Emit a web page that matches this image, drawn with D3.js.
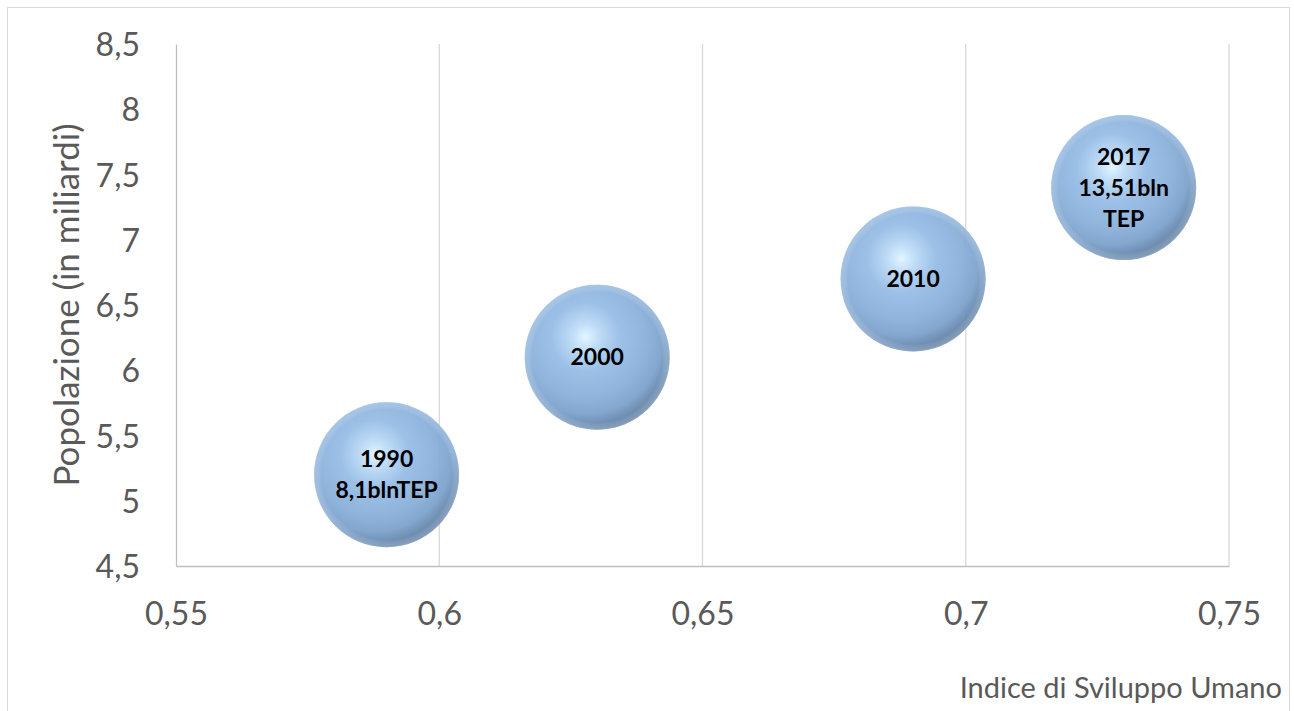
<!DOCTYPE html>
<html><head><meta charset="utf-8">
<script src="https://cdn.jsdelivr.net/npm/d3@7"></script>
<style>body{margin:0;background:#fff}svg{display:block}</style>
</head><body>
<script>
const years = ["1990","2000","2010","2017"];
const hdi = [0.59, 0.63, 0.69, 0.73];
const population = [5.2, 6.1, 6.7, 7.4];
const bubbleSize = [1, 1, 1, 1];
const bubbleLabels = [["1990","8,1blnTEP"],["2000"],["2010"],["2017","13,51bln","TEP"]];
const xTicks = [0.55, 0.6, 0.65, 0.7, 0.75];
const yTicks = [4.5, 5, 5.5, 6, 6.5, 7, 7.5, 8, 8.5];

const W = 1294, H = 711;
const svg = d3.select("body").append("svg").attr("width", W).attr("height", H);
const font = "Lato, 'Open Sans', sans-serif";

svg.append("rect").attr("x",7.5).attr("y",7.5).attr("width",1282).attr("height",720)
  .attr("fill","#fff").attr("stroke","#d9d9d9").attr("stroke-width",1);

const x = d3.scaleLinear().domain([0.55, 0.75]).range([176, 1229]);
const y = d3.scaleLinear().domain([4.5, 8.5]).range([566, 44]);
const r = d3.scaleSqrt().domain([0, 1]).range([0, 72.5]);

const defs = svg.append("defs");
const g1 = defs.append("radialGradient").attr("id","sphere")
  .attr("cx","0.42").attr("cy","0.36").attr("r","0.72");
[[0,"#e2f5ff"],[0.12,"#bedcf8"],[0.33,"#96bce5"],[0.58,"#8aafd9"],[0.74,"#7ca1cb"],[0.84,"#6788ae"],[0.93,"#546f8f"],[1,"#4c6585"]]
  .forEach(([o,c])=>g1.append("stop").attr("offset",o).attr("stop-color",c));
const g2 = defs.append("radialGradient").attr("id","rim")
  .attr("cx","0.5").attr("cy","0.5").attr("r","0.5");
[[0,"#ffffff",0],[0.9,"#ffffff",0],[0.98,"#c6dcf2",0.3],[1,"#c6dcf2",0.45]]
  .forEach(([o,c,a])=>g2.append("stop").attr("offset",o).attr("stop-color",c).attr("stop-opacity",a));

// gridlines
svg.append("g").selectAll("line").data(xTicks.slice(1)).join("line")
  .attr("x1",d=>x(d)).attr("x2",d=>x(d)).attr("y1",y(8.5)).attr("y2",y(4.5))
  .attr("stroke","#d9d9d9").attr("stroke-width",1.3);

const fmt = d=>d3.format("")(d).replace(".",",");
// axes
const gx = svg.append("g").attr("transform",`translate(0,${y(4.5)})`)
  .call(d3.axisBottom(x).tickValues(xTicks).tickSize(0).tickFormat(fmt));
gx.select(".domain").attr("stroke","#bfbfbf").attr("stroke-width",1.3);
gx.selectAll("text").attr("font-family",font).attr("font-size",32).attr("fill","#595959").attr("y",0).attr("dy","1.85em");

const gy = svg.append("g").attr("transform",`translate(${x(0.55)},0)`)
  .call(d3.axisLeft(y).tickValues(yTicks).tickSize(0).tickFormat(fmt));
gy.select(".domain").attr("stroke","#bfbfbf").attr("stroke-width",1.3);
gy.selectAll("text").attr("font-family",font).attr("font-size",32).attr("fill","#595959").attr("x",-36).attr("dy","0.36em");

// titles
svg.append("text").attr("transform","translate(79,305) rotate(-90)").attr("text-anchor","middle")
  .attr("font-family",font).attr("font-size",35).attr("fill","#595959").text("Popolazione (in miliardi)");
svg.append("text").attr("x",1282).attr("y",698).attr("text-anchor","end")
  .attr("font-family",font).attr("font-size",29).attr("fill","#595959").text("Indice di Sviluppo Umano");

// bubbles
const data = years.map((d,i)=>({year:d, x:hdi[i], y:population[i], s:bubbleSize[i], lab:bubbleLabels[i]}));
const b = svg.append("g").selectAll("g").data(data).join("g")
  .attr("transform",d=>`translate(${x(d.x)},${y(d.y)})`);
b.append("circle").attr("r",d=>r(d.s)).attr("fill","url(#sphere)").attr("fill-opacity",0.94);
b.append("circle").attr("r",d=>r(d.s)).attr("fill","url(#rim)");
b.each(function(d){
  const n = d.lab.length;
  const t = d3.select(this).append("text").attr("text-anchor","middle")
    .attr("font-family",font).attr("font-weight","bold").attr("font-size",23).attr("fill","#000");
  d.lab.forEach((l,i)=>t.append("tspan").attr("x",0).attr("y",(i-(n-1)/2)*31).attr("dy","0.35em").text(l));
});
</script>
</body></html>
